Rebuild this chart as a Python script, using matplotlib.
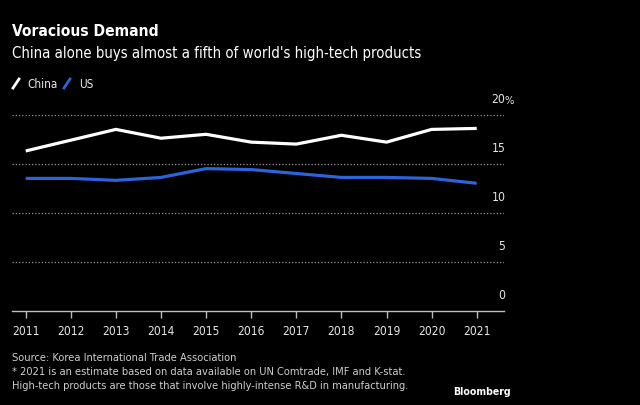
import matplotlib
matplotlib.use('Agg')
import matplotlib.pyplot as plt
from matplotlib.lines import Line2D

years = [2011, 2012, 2013, 2014, 2015, 2016, 2017, 2018, 2019, 2020, 2021]
china = [16.3, 17.4, 18.5, 17.6, 18.0, 17.2, 17.0, 17.9, 17.2, 18.5, 18.6]
us = [13.5, 13.5, 13.3, 13.6, 14.5, 14.4, 14.0, 13.6, 13.6, 13.5, 13.0]
y_ticks = [0, 5, 10, 15, 20]

plt.rcParams['font.family'] = ['DejaVu Sans']
plt.rcParams['font.stretch'] = 'condensed'

BG = 'black'
FG = '#e6e6e6'
BLUE = '#2a64d8'

fig = plt.figure(figsize=(6.4, 4.05), dpi=100, facecolor=BG)
ax = fig.add_axes([12 / 640, 1 - 310.7 / 405, 492 / 640, 196 / 405], facecolor=BG)

ax.plot(years, china, color='white', lw=2.3, solid_capstyle='butt', zorder=3)
ax.plot(years, us, color=BLUE, lw=2.3, solid_capstyle='butt', zorder=3)

ax.set_xlim(2010.696, 2021.605)
ax.set_ylim(0, 20)

# dotted gridlines
for v in y_ticks[1:]:
    ax.axhline(v, color='#999999', lw=0.9, ls=(0, (1, 1.6)), zorder=1)

for s in ['top', 'right', 'left']:
    ax.spines[s].set_visible(False)
ax.spines['bottom'].set_color('#bdbdbd')
ax.spines['bottom'].set_linewidth(1.0)

ax.set_yticks([])
ax.set_xticks(years)
ax.set_xticklabels([str(y) for y in years], fontsize=8.6)
ax.tick_params(axis='x', colors='#bdbdbd', length=5, width=1, pad=5, labelcolor=FG)

# right-side value labels above gridlines
for v in y_ticks:
    ax.annotate(str(v), xy=(1.0, v), xycoords=('axes fraction', 'data'),
                xytext=(1, 6), textcoords='offset points',
                ha='right', va='bottom', color=FG, fontsize=8.7)
ax.annotate('%', xy=(1.0, 20), xycoords=('axes fraction', 'data'),
            xytext=(0.5, 6), textcoords='offset points',
            ha='left', va='bottom', color=FG, fontsize=8)

# titles
fig.text(12 / 640, 1 - 36.5 / 405, 'Voracious Demand', color='white',
         fontsize=11.2, fontweight='bold', va='baseline')
fig.text(12 / 640, 1 - 58 / 405, "China alone buys almost a fifth of world's high-tech products",
         color='white', fontsize=10.7, va='baseline')

# legend
fig.add_artist(Line2D([13 / 640, 19 / 640], [1 - 88 / 405, 1 - 79 / 405],
                      color='white', lw=2, transform=fig.transFigure))
fig.text(27 / 640, 1 - 88 / 405, 'China', color=FG, fontsize=8.4, va='baseline')
fig.add_artist(Line2D([64 / 640, 70 / 640], [1 - 88 / 405, 1 - 79 / 405],
                      color=BLUE, lw=2, transform=fig.transFigure))
fig.text(79 / 640, 1 - 88 / 405, 'US', color=FG, fontsize=8.4, va='baseline')

# footer
notes = ['Source: Korea International Trade Association',
         '* 2021 is an estimate based on data available on UN Comtrade, IMF and K-stat.',
         'High-tech products are those that involve highly-intense R&D in manufacturing.']
for i, line in enumerate(notes):
    fig.text(12 / 640, 1 - (361 + i * 14) / 405, line, color='#cfcfcf',
             fontsize=7.9, va='baseline')
fig.text(511 / 640, 1 - 395 / 405, 'Bloomberg', color='white', fontsize=7.6,
         fontweight='bold', ha='right', va='baseline')

fig.savefig('out.png', dpi=100, facecolor=BG)
